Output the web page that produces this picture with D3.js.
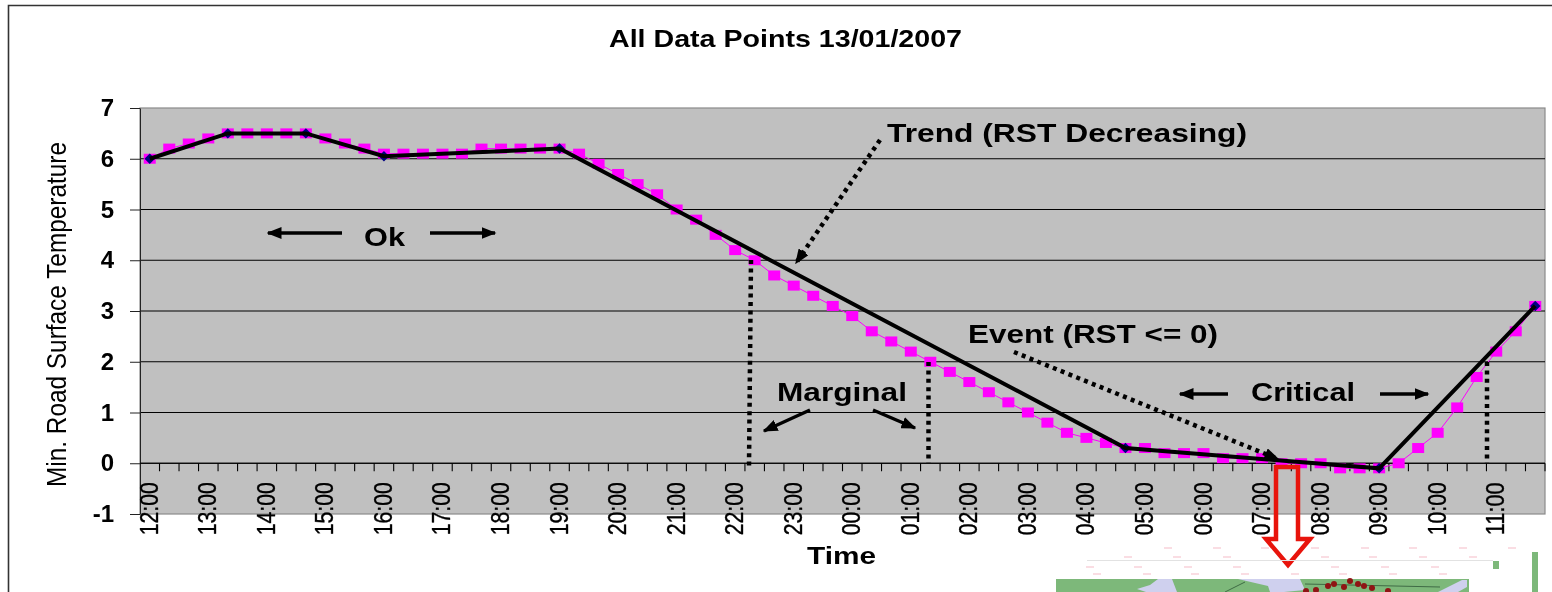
<!DOCTYPE html>
<html>
<head>
<meta charset="utf-8">
<script src="https://cdn.jsdelivr.net/npm/d3@7"></script>
<style>
  html, body { margin: 0; padding: 0; background: #fff; overflow: hidden; }
  svg { display: block; filter: blur(0.55px); }
  text { font-family: "Liberation Sans", Arial, sans-serif; fill: #000; }
</style>
</head>
<body>
<div id="chart"></div>
<script>
const CHART_TITLE = 'All Data Points 13/01/2007';
const X_TITLE = 'Time';
const Y_TITLE = 'Min. Road Surface Temperature';

// one reading every 20 minutes, 12:00 through to 11:40 next morning
const times = [
  '12:00','12:20','12:40','13:00','13:20','13:40','14:00','14:20','14:40',
  '15:00','15:20','15:40','16:00','16:20','16:40','17:00','17:20','17:40',
  '18:00','18:20','18:40','19:00','19:20','19:40','20:00','20:20','20:40',
  '21:00','21:20','21:40','22:00','22:20','22:40','23:00','23:20','23:40',
  '00:00','00:20','00:40','01:00','01:20','01:40','02:00','02:20','02:40',
  '03:00','03:20','03:40','04:00','04:20','04:40','05:00','05:20','05:40',
  '06:00','06:20','06:40','07:00','07:20','07:40','08:00','08:20','08:40',
  '09:00','09:20','09:40','10:00','10:20','10:40','11:00','11:20','11:40'
];
const rst = [
  6.0, 6.2, 6.3, 6.4, 6.5, 6.5, 6.5, 6.5, 6.5,
  6.4, 6.3, 6.2, 6.1, 6.1, 6.1, 6.1, 6.1, 6.2,
  6.2, 6.2, 6.2, 6.2, 6.1, 5.9, 5.7, 5.5, 5.3,
  5.0, 4.8, 4.5, 4.2, 4.0, 3.7, 3.5, 3.3, 3.1,
  2.9, 2.6, 2.4, 2.2, 2.0, 1.8, 1.6, 1.4, 1.2,
  1.0, 0.8, 0.6, 0.5, 0.4, 0.3, 0.3, 0.2, 0.2,
  0.2, 0.1, 0.1, 0.1, 0.0, 0.0, 0.0, -0.1, -0.1,
  -0.1, 0.0, 0.3, 0.6, 1.1, 1.7, 2.2, 2.6, 3.1
];
const trendTimes = ['12:00','13:20','14:40','16:00','19:00','04:40','09:00','11:40'];
const trendValues = [6.0, 6.5, 6.5, 6.05, 6.2, 0.3, -0.1, 3.1];
const yTicks = [-1, 0, 1, 2, 3, 4, 5, 6, 7];
const hourLabels = times.filter((d, i) => i % 3 === 0);

const width = 1552, height = 592;
const margin = { top: 108, right: 7, bottom: 78, left: 140 };
const W = width - margin.left - margin.right;
const H = height - margin.top - margin.bottom;

const svg = d3.select('#chart').append('svg')
  .attr('width', width).attr('height', height)
  .attr('role', 'img').attr('aria-label', CHART_TITLE);

svg.append('defs').append('marker').attr('id', 'head')
  .attr('viewBox', '0 0 10 10').attr('refX', 9).attr('refY', 5)
  .attr('markerUnits', 'userSpaceOnUse')
  .attr('markerWidth', 15).attr('markerHeight', 12)
  .attr('preserveAspectRatio', 'none')
  .attr('orient', 'auto')
  .append('path').attr('d', 'M0,0L10,5L0,10Z').attr('fill', '#000');

// squeezes or stretches a label to the width it has in the picture
const fitted = (parent, text, px, py, size, len, bold) => parent.append('text')
  .attr('x', px).attr('y', py)
  .attr('font-size', size + 'px').attr('font-weight', bold ? '700' : '400')
  .attr('textLength', len).attr('lengthAdjust', 'spacingAndGlyphs')
  .text(text);

// outer chart frame, open on the right and bottom
svg.append('path')
  .attr('d', `M8.5,${height}V5.5H${width}`)
  .attr('fill', 'none').attr('stroke', '#333').attr('stroke-width', 1.6);

fitted(svg, CHART_TITLE, 609, 47, 24, 353, true);

const x = d3.scaleBand().domain(times).range([0, W]);
const y = d3.scaleLinear().domain([-1, 7]).range([H, 0]);
const cx = t => x(t) + x.bandwidth() / 2;

const g = svg.append('g').attr('transform', `translate(${margin.left},${margin.top})`);

g.append('rect').attr('width', W).attr('height', H)
  .attr('fill', '#c0c0c0').attr('stroke', '#8a8a8a').attr('stroke-width', 1.2);

// gridlines
g.append('g').selectAll('line').data(yTicks.filter(d => d > -1 && d < 7))
  .join('line')
  .attr('x1', 0).attr('x2', W)
  .attr('y1', d => y(d)).attr('y2', d => y(d))
  .attr('stroke', '#000').attr('stroke-width', 1.2);

// y axis
const yAxis = g.append('g')
  .call(d3.axisLeft(y).tickValues(yTicks).tickSize(10).tickSizeOuter(0).tickPadding(16).tickFormat(d => String(d)));
yAxis.selectAll('text').attr('font-size', '24px').attr('font-weight', '700')
  .style('font-family', '"Liberation Sans", Arial, sans-serif');
yAxis.selectAll('line,path').attr('stroke', '#222');

// x axis sits at zero, ticks on band edges
const xAxis = g.append('g').attr('transform', `translate(0,${y(0)})`);
xAxis.append('line').attr('x2', W).attr('stroke', '#000').attr('stroke-width', 1.2);
xAxis.selectAll('.tick').data(times).join('line').attr('class', 'tick')
  .attr('x1', d => x(d) + x.bandwidth()).attr('x2', d => x(d) + x.bandwidth())
  .attr('y1', 0).attr('y2', 8)
  .attr('stroke', '#000').attr('stroke-width', 1.1);
xAxis.selectAll('.hour').data(hourLabels).join('text').attr('class', 'hour')
  .attr('transform', d => `translate(${cx(d) + 8},19) rotate(-90)`)
  .attr('text-anchor', 'end')
  .attr('font-size', '25px')
  .attr('textLength', 53).attr('lengthAdjust', 'spacingAndGlyphs')
  .attr('stroke', '#000').attr('stroke-width', 0.35)
  .text(d => d);

// 20 minute readings, magenta
const line = d3.line().x(d => cx(d[0])).y(d => y(d[1]));
g.append('path').datum(d3.zip(times, rst))
  .attr('d', line).attr('fill', 'none').attr('stroke', '#ff00ff').attr('stroke-width', 1);
g.append('g').selectAll('rect').data(d3.zip(times, rst))
  .join('rect')
  .attr('x', d => cx(d[0]) - 6).attr('y', d => y(d[1]) - 5)
  .attr('width', 12).attr('height', 10)
  .attr('fill', '#ff00ff');

// trend line with navy diamonds
const trend = d3.zip(trendTimes, trendValues);
g.append('g').selectAll('path').data(trend)
  .join('path')
  .attr('d', d3.symbol(d3.symbolDiamond2, 70))
  .attr('transform', d => `translate(${cx(d[0])},${y(d[1])})`)
  .attr('fill', '#000080');
g.append('path').datum(trend)
  .attr('d', line).attr('fill', 'none').attr('stroke', '#000').attr('stroke-width', 4);

// axis titles
svg.append('text')
  .attr('transform', 'translate(66,314.5) rotate(-90)')
  .attr('text-anchor', 'middle').attr('font-size', '28px')
  .attr('textLength', 345).attr('lengthAdjust', 'spacingAndGlyphs')
  .text(Y_TITLE);
fitted(svg, X_TITLE, 807, 564, 24, 69, true);

// annotations drawn on top of the chart
const notes = svg.append('g');
fitted(notes, 'Trend (RST Decreasing)', 887, 142, 26, 360, true);
fitted(notes, 'Ok', 364, 246, 26, 41, true);
fitted(notes, 'Event (RST <= 0)', 968, 343, 26, 250, true);
fitted(notes, 'Marginal', 777, 401, 26, 130, true);
fitted(notes, 'Critical', 1251, 401, 26, 104, true);

const solid = (x1, y1, x2, y2) => notes.append('line')
  .attr('x1', x1).attr('y1', y1).attr('x2', x2).attr('y2', y2)
  .attr('stroke', '#000').attr('stroke-width', 3.4).attr('marker-end', 'url(#head)');
const dotted = (x1, y1, x2, y2, head) => {
  const l = notes.append('line')
    .attr('x1', x1).attr('y1', y1).attr('x2', x2).attr('y2', y2)
    .attr('stroke', '#000').attr('stroke-width', 4.5).attr('stroke-dasharray', '4,4.4');
  if (head) l.attr('marker-end', 'url(#head)');
};
solid(342, 233, 268, 233);
solid(430, 233, 495, 233);
solid(1228, 394, 1180, 394);
solid(1380, 394, 1428, 394);
solid(810, 410, 764, 431);
solid(873, 410, 915, 428);
dotted(880, 140, 796, 263, true);
dotted(1014, 352, 1278, 459, true);
dotted(751, 260, 749, 466);
dotted(928.5, 362, 928.5, 463);
dotted(1487, 362, 1487, 463);

// big hollow red arrow down from the event
notes.append('path')
  .attr('d', 'M1276,467H1298V539H1310L1288,565L1266,539H1276Z')
  .attr('fill', 'none').attr('stroke', '#e8140c').attr('stroke-width', 4.5);

// top edge of the map below the chart, cut off by the page edge
const map = svg.append('g');
[[548, [1168, 1217, 1265, 1315, 1365, 1413, 1463, 1512]],
 [557, [1128, 1177, 1227, 1325, 1373, 1423, 1473]],
 [567, [1090, 1138, 1188, 1237, 1335, 1385, 1435]],
 [574, [1097, 1147, 1195, 1245, 1295, 1343, 1393, 1443]]
].forEach(([py, xs]) => xs.forEach(px => map.append('rect')
  .attr('x', px - 4).attr('y', py - 1).attr('width', 8).attr('height', 2)
  .attr('fill', '#fadde3')));
map.append('line').attr('x1', 1087).attr('x2', 1493).attr('y1', 560.5).attr('y2', 560.5)
  .attr('stroke', '#e2e2e2').attr('stroke-width', 1);
map.append('rect').attr('x', 1056).attr('y', 579).attr('width', 413).attr('height', 13).attr('fill', '#7db87a');
map.append('path').attr('d', 'M1137,589L1150,585L1158,579H1172L1177,592H1146Z').attr('fill', '#cfd0ee');
map.append('path').attr('d', 'M1238,579H1300L1305,590L1284,592H1270L1268,586Z').attr('fill', '#cfd0ee');
map.append('path').attr('d', 'M1438,592L1462,580H1467V587L1458,592Z').attr('fill', '#cfd0ee');
map.append('path').attr('d', 'M1225,592L1245,582M1305,584L1440,587')
  .attr('fill', 'none').attr('stroke', '#3f6b45').attr('stroke-width', 1);
[[1306, 591], [1316, 590], [1328, 586], [1334, 584], [1344, 587], [1350, 581], [1358, 584], [1364, 586], [1372, 588], [1388, 591]]
  .forEach(p => map.append('circle').attr('cx', p[0]).attr('cy', p[1]).attr('r', 3).attr('fill', '#8f1414'));
map.append('rect').attr('x', 1493).attr('y', 561).attr('width', 6).attr('height', 8).attr('fill', '#7db87a');
map.append('rect').attr('x', 1532).attr('y', 552).attr('width', 6).attr('height', 40).attr('fill', '#7db87a');
</script>
</body>
</html>
